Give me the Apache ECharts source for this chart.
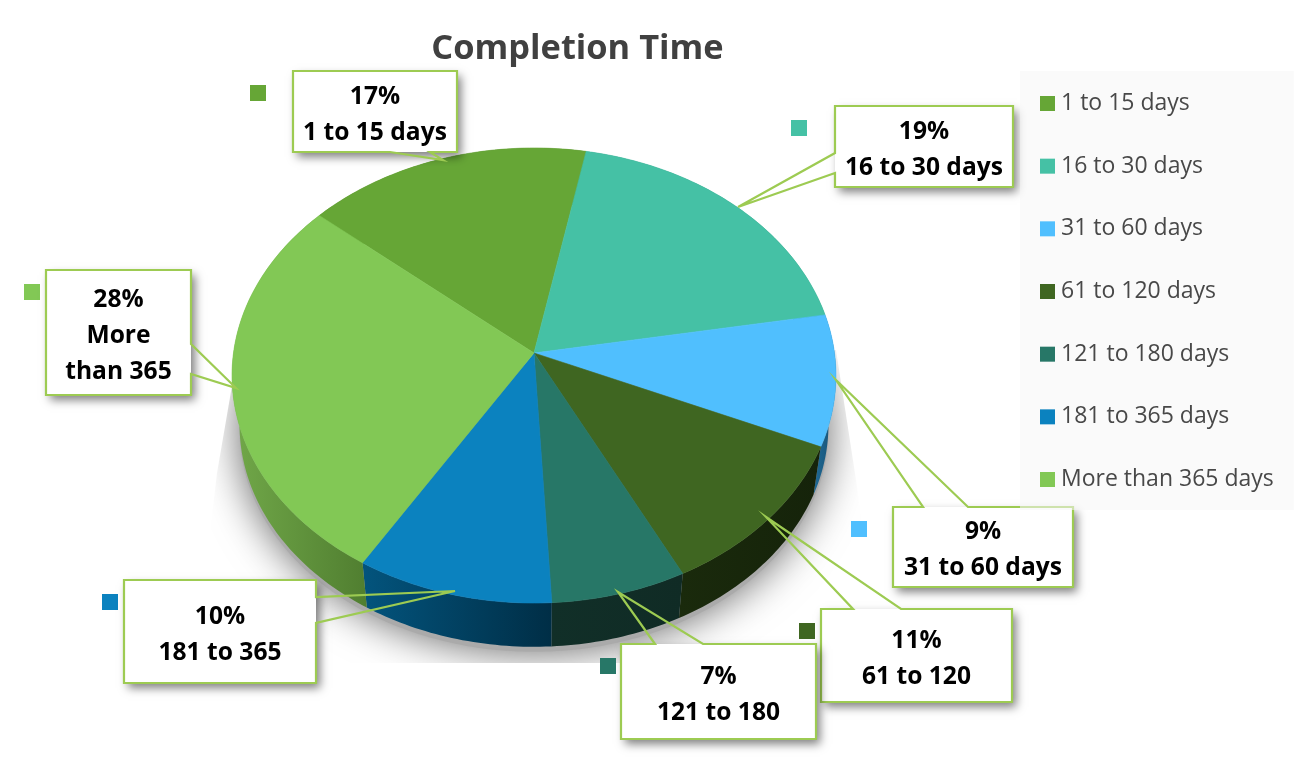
<!DOCTYPE html>
<html><head><meta charset="utf-8">
<style>html,body{margin:0;padding:0;background:#fff}#c{width:1307px;height:771px}</style>
<script src="https://cdn.jsdelivr.net/npm/echarts@6/dist/echarts.min.js"></script>
</head><body><div id="c"></div>
<script>
// ---- data ----
const categories = ['1 to 15 days','16 to 30 days','31 to 60 days','61 to 120 days','121 to 180 days','181 to 365 days','More than 365 days'];
const shares = [16.8, 19.2, 9.3, 11.0, 6.6, 9.6, 27.5];
const calloutNames = ['1 to 15 days','16 to 30 days','31 to 60 days','61 to 120','121 to 180','181 to 365','More\nthan 365'];
// ---- styles ----
const topColors = ['#66A636','#45C1A5','#50BFFE','#3F6621','#277767','#0B82BF','#82C855'];
const wallStops = [['#4d7d29','#4d7d29'],['#2f8a75','#2f8a75'],['#1f6a96','#174f70'],['#1a2a0c','#15230a'],['#112f28','#102b25'],['#03547d','#002e46'],['#71a849','#507e30']];
const FONT = '"Open Sans", "Noto Sans", sans-serif';
// ---- layout: perspective disc and callout boxes ----
const CX = 534, CY = 353, A = 300.5, B = 225.3, K = 0.0989, START = 139.5;
const WALL_CY = 403, WALL_SCALE = 0.975;
const boxes = [[293,71,164,81],[835,106,178,81],[893,507,180,80],[821,609,191,93],[621,644,195,95],[124,580,192,103],[46,270,145,125]];
const wedges = [
  {side:'b', a:[430,152], b:[390,152], tip:[443,160]},
  {side:'l', a:[835,173], b:[835,153], tip:[738,207]},
  {side:'t', a:[923,507], b:[968,507], tip:[836,380]},
  {side:'t', a:[853,609], b:[901,609], tip:[766,517]},
  {side:'t', a:[655,644], b:[703,644], tip:[618,592]},
  {side:'r', a:[316,597], b:[316,623], tip:[455,591]},
  {side:'r', a:[191,344], b:[191,374], tip:[236,388]}
];
const markers = [[250,85],[791,120],[851,521],[799,623],[600,658],[102,594],[24,284]];
const floorClip = [[233,380],[217,473],[195,663],[880,663],[856,480],[836,350]];

function pt(deg, s, cy){
  const t = deg*Math.PI/180, w = 1+K*Math.sin(t);
  return [CX + A*s*Math.cos(t)/w, cy - B*s*Math.sin(t)/w];
}
function arc(a0, a1, s, cy){
  const n = Math.max(2, Math.ceil(Math.abs(a1-a0))), out = [];
  for(let i=0;i<=n;i++) out.push(pt(a0+(a1-a0)*i/n, s, cy));
  return out;
}
const total = shares.reduce((a,b)=>a+b,0);
const ranges = []; 
shares.reduce((acc,v)=>{const e=acc-v/total*360; ranges.push([acc,e]); return e;}, START);

function outline(i){
  const [x,y,w,h] = boxes[i], d = wedges[i];
  const c = {tl:[x,y],tr:[x+w,y],br:[x+w,y+h],bl:[x,y+h]};
  const seq = {
    t:[c.tl,d.a,d.tip,d.b,c.tr,c.br,c.bl],
    r:[c.tl,c.tr,d.a,d.tip,d.b,c.br,c.bl],
    b:[c.tl,c.tr,c.br,d.a,d.tip,d.b,c.bl],
    l:[c.tl,c.tr,c.br,c.bl,d.a,d.tip,d.b]
  };
  return seq[d.side];
}

const floorSeries = {
  type:'custom', name:'floor', coordinateSystem:'none', silent:true, z:1, clip:false,
  data:[[1]],
  renderItem(){
    return {type:'polygon', shape:{points:arc(0,360,WALL_SCALE,WALL_CY+5)},
      clipPath:{type:'polygon', shape:{points:floorClip}},
      style:{fill:'#aaaaaa', shadowBlur:42, shadowColor:'rgba(0,0,0,0.6)', shadowOffsetX:0, shadowOffsetY:0}};
  }
};
const wallSeries = {
  type:'custom', name:'walls', coordinateSystem:'none', silent:true, z:2, clip:false,
  data:shares.map((v,i)=>[i,v]),
  renderItem(p, api){
    const i = api.value(0), [a0,a1] = ranges[i];
    const pts = arc(a0,a1,1,CY).concat(arc(a1,a0,WALL_SCALE,WALL_CY));
    return {type:'polygon', shape:{points:pts},
      style:{fill:{type:'linear',x:0,y:0,x2:1,y2:0,colorStops:[{offset:0,color:wallStops[i][0]},{offset:1,color:wallStops[i][1]}]}}};
  }
};
const sliceSeries = categories.map((name,i)=>({
  type:'custom', name, coordinateSystem:'none', silent:true, z:3, clip:false,
  itemStyle:{color:topColors[i]},
  data:[{name, value:shares[i]}],
  renderItem(){
    const [a0,a1] = ranges[i];
    return {type:'polygon', shape:{points:[[CX,CY]].concat(arc(a0,a1,1,CY))},
      style:{fill:topColors[i], stroke:topColors[i], lineWidth:0.6}};
  }
}));
const calloutSeries = {
  type:'custom', name:'callouts', coordinateSystem:'none', silent:true, z:4, clip:false,
  data:shares.map((v,i)=>[i,v]),
  renderItem(p, api){
    const i = api.value(0), v = api.value(1), [x,y,w,h] = boxes[i], m = markers[i];
    const LINE = '#9DCB52';
    return {type:'group', children:[
      {type:'rect', shape:{x:m[0],y:m[1],width:16,height:16}, style:{fill:topColors[i]}},
      {type:'polyline', shape:{points:outline(i).concat([outline(i)[0]])},
        style:{fill:'none', stroke:'rgba(0,0,0,0.01)', lineWidth:2, shadowBlur:6, shadowOffsetX:3, shadowOffsetY:4, shadowColor:'rgba(0,0,0,0.35)'}},
      {type:'rect', shape:{x,y,width:w,height:h},
        style:{fill:'#fff', shadowBlur:9, shadowOffsetX:4, shadowOffsetY:5, shadowColor:'rgba(0,0,0,0.5)'}},
      {type:'polyline', shape:{points:outline(i).concat([outline(i)[0],outline(i)[1]])},
        style:{fill:'none', stroke:LINE, lineWidth:2.2, lineJoin:'miter'}},
      {type:'text', x:x+w/2, y:y+h/2+3,
        style:{text:Math.round(v/total*100)+'%\n'+calloutNames[i], fill:'#000', align:'center', verticalAlign:'middle',
          font:'700 24.6px '+FONT, lineHeight:36}}
    ]};
  }
};

const chart = echarts.init(document.getElementById('c'));
chart.setOption({
  animation:false,
  backgroundColor:'#fff',
  title:{text:'Completion Time', left:572.5, top:27, textAlign:'center',
    textStyle:{fontFamily:FONT, fontSize:34.4, fontWeight:700, color:'#404040'}},
  legend:{
    data:categories, orient:'vertical', left:1020, top:71, z:8,
    icon:'rect', itemWidth:15, itemHeight:15, itemGap:39.67, selectedMode:false,
    backgroundColor:'rgba(245,245,245,0.55)', padding:[21,20,19,20],
    textStyle:{fontFamily:FONT, fontSize:23, color:'#484848', lineHeight:15, padding:[0,0,0,1]}
  },
  series:[floorSeries, wallSeries].concat(sliceSeries,[calloutSeries])
});
</script></body></html>
